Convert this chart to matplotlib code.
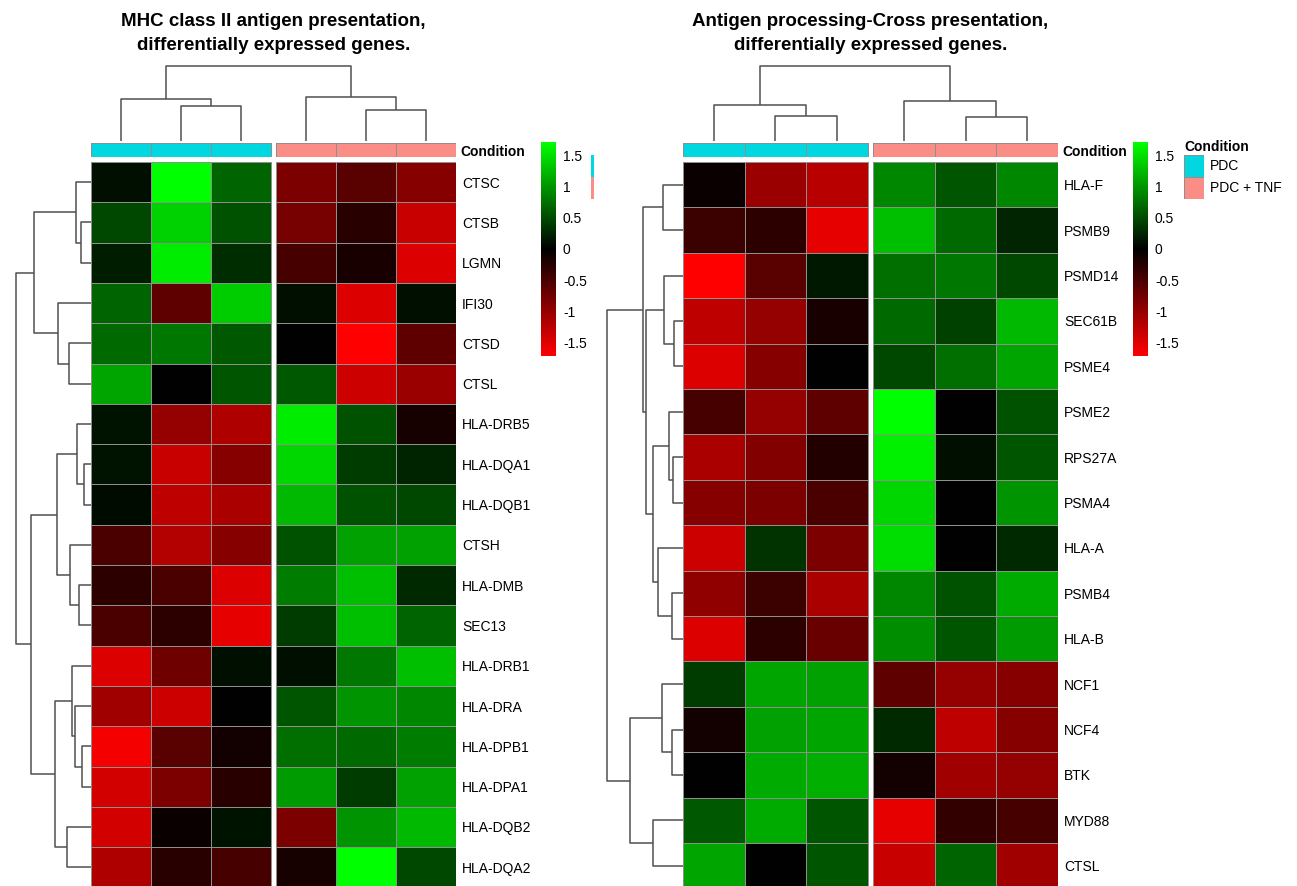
import numpy as np
import matplotlib
matplotlib.use("Agg")
import matplotlib.pyplot as plt
from matplotlib.colors import LinearSegmentedColormap, ListedColormap, Normalize
from matplotlib.cm import ScalarMappable

plt.rcParams['font.family'] = ['Liberation Sans', 'DejaVu Sans']
plt.rcParams['axes.unicode_minus'] = False

W, H = 1297, 886

# ---- data -------------------------------------------------------------
conditions = ["PDC", "PDC", "PDC", "PDC + TNF", "PDC + TNF", "PDC + TNF"]
cond_levels = ["PDC", "PDC + TNF"]
cond_colors = ["#00D7E0", "#FA8E86"]

mhc_title = "MHC class II antigen presentation,\ndifferentially expressed genes."
mhc_genes = ["CTSC", "CTSB", "LGMN", "IFI30", "CTSD", "CTSL", "HLA-DRB5",
             "HLA-DQA1", "HLA-DQB1", "CTSH", "HLA-DMB", "SEC13", "HLA-DRB1",
             "HLA-DRA", "HLA-DPB1", "HLA-DPA1", "HLA-DQB2", "HLA-DQA2"]
mhc_values = np.array([
    [0.10, 1.70, 0.67, -0.84, -0.60, -0.90],
    [0.47, 1.40, 0.54, -0.80, -0.27, -1.34],
    [0.20, 1.58, 0.30, -0.47, -0.17, -1.48],
    [0.67, -0.64, 1.37, 0.10, -1.48, 0.10],
    [0.70, 0.80, 0.60, 0.00, -1.71, -0.64],
    [1.10, 0.00, 0.57, 0.60, -1.37, -1.04],
    [0.13, -1.00, -1.17, 1.58, 0.54, -0.15],
    [0.13, -1.34, -0.90, 1.44, 0.40, 0.23],
    [0.08, -1.27, -1.14, 1.24, 0.54, 0.47],
    [-0.50, -1.20, -0.90, 0.54, 1.07, 1.07],
    [-0.30, -0.50, -1.48, 0.84, 1.27, 0.27],
    [-0.50, -0.30, -1.54, 0.40, 1.27, 0.67],
    [-1.48, -0.74, 0.10, 0.10, 0.80, 1.27],
    [-1.07, -1.37, 0.00, 0.57, 1.00, 0.90],
    [-1.64, -0.60, -0.13, 0.74, 0.70, 0.84],
    [-1.41, -0.84, -0.27, 1.04, 0.40, 1.07],
    [-1.41, -0.07, 0.13, -0.84, 1.00, 1.24],
    [-1.17, -0.27, -0.47, -0.15, 1.71, 0.47],
])

cross_title = "Antigen processing-Cross presentation,\ndifferentially expressed genes."
cross_genes = ["HLA-F", "PSMB9", "PSMD14", "SEC61B", "PSME4", "PSME2", "RPS27A",
               "PSMA4", "HLA-A", "PSMB4", "HLA-B", "NCF1", "NCF4", "BTK",
               "MYD88", "CTSL"]
cross_values = np.array([
    [-0.07, -1.04, -1.24, 0.90, 0.57, 0.90],
    [-0.40, -0.30, -1.54, 1.27, 0.70, 0.25],
    [-1.71, -0.60, 0.15, 0.74, 0.80, 0.47],
    [-1.27, -1.00, -0.17, 0.70, 0.44, 1.24],
    [-1.48, -0.90, 0.00, 0.47, 0.74, 1.10],
    [-0.47, -1.00, -0.64, 1.71, 0.00, 0.54],
    [-1.14, -0.87, -0.23, 1.61, 0.10, 0.57],
    [-0.90, -0.84, -0.50, 1.44, 0.00, 1.00],
    [-1.37, 0.34, -0.84, 1.48, 0.00, 0.27],
    [-0.97, -0.40, -1.14, 0.90, 0.54, 1.14],
    [-1.48, -0.30, -0.70, 0.94, 0.57, 1.04],
    [0.40, 1.10, 1.07, -0.64, -1.00, -0.90],
    [-0.13, 1.07, 1.10, 0.27, -1.27, -0.90],
    [0.00, 1.14, 1.17, -0.13, -1.07, -1.00],
    [0.60, 1.14, 0.57, -1.54, -0.34, -0.47],
    [1.10, 0.00, 0.57, -1.34, 0.67, -1.07],
])

# dendrograms as nested (left, right, merge height); leaves = display order
mhc_row_tree = (
    ((0, (1, 2, 10.0), 15.0), (3, (4, 5, 22.0), 33.0), 56.7),
    (((6, (7, 8, 7.3), 14.0), (9, (10, 11, 12.0), 20.7), 34.3),
     ((12, (13, (14, 15, 9.3), 16.0), 18.7), (16, 17, 24.3), 36.0), 60.3),
    75.3)
mhc_col_tree = ((0, (1, 2, 35.0), 41.7), (3, (4, 5, 31.0), 44.3), 75.0)

cross_row_tree = (
    ((0, 1, 20.3),
     ((2, (3, 4, 9.0), 18.7),
      ((5, (6, 7, 10.3), 13.7), (8, (9, 10, 11.3), 25.3), 29.7), 37.0), 39.7),
    ((11, (12, 13, 11.3), 21.0), (14, 15, 29.7), 53.0),
    75.7)
cross_col_tree = ((0, (1, 2, 25.0), 35.7), (3, (4, 5, 23.7), 40.0), 75.0)

cbar_ticks = [1.5, 1, 0.5, 0, -0.5, -1, -1.5]
VLIM = 1.71

cmap = LinearSegmentedColormap.from_list("rkg", ["#FF0000", "#000000", "#00FF00"], N=256)
norm = Normalize(-VLIM, VLIM)
cond_cmap = ListedColormap(cond_colors)
CELL_EDGE = "#8f8f8f"
CELL_LW = 0.55
TREE_COL = "#505050"


def px_axes(fig, x0, y0, x1, y1):
    return fig.add_axes([x0 / W, 1 - y1 / H, (x1 - x0) / W, (y1 - y0) / H])


def draw_tree(ax, node, pos, rows):
    if isinstance(node, int):
        return pos[node], 0.0
    a, b, h = node
    pa, ha = draw_tree(ax, a, pos, rows)
    pb, hb = draw_tree(ax, b, pos, rows)
    ps, hs = [pa, pa, pb, pb], [ha, h, h, hb]
    if rows:
        ax.plot(hs, ps, color=TREE_COL, lw=1.1, solid_capstyle="butt")
    else:
        ax.plot(ps, hs, color=TREE_COL, lw=1.1, solid_capstyle="butt")
    return (pa + pb) / 2, h


def draw_panel(fig, title, genes, values, row_tree, col_tree,
               x0, x1, top, row_h, gap, dendro_x, cbar_x, label_pad):
    n = len(genes)
    bottom = top + n * row_h
    xl = np.arange(4)
    xr = np.arange(3, 7) + gap
    centers = np.r_[xl[:-1] + 0.5, xr[:-1] + 0.5]
    yedges = np.arange(n + 1)

    # heatmap
    ax = px_axes(fig, x0, top, x1, bottom)
    ax.pcolormesh(xl, yedges, values[:, :3], cmap=cmap, norm=norm,
                  edgecolors=CELL_EDGE, linewidth=CELL_LW)
    ax.pcolormesh(xr, yedges, values[:, 3:], cmap=cmap, norm=norm,
                  edgecolors=CELL_EDGE, linewidth=CELL_LW)
    ax.set_xlim(0, 6 + gap)
    ax.set_ylim(n, 0)
    for s in ax.spines.values():
        s.set_visible(False)
    ax.set_xticks([])
    ax.yaxis.tick_right()
    ax.set_yticks(np.arange(n) + 0.5)
    ax.set_yticklabels(genes, fontsize=10)
    ax.tick_params(axis="y", length=0, pad=label_pad)

    # condition annotation
    codes = np.array([[cond_levels.index(c) for c in conditions]])
    axa = px_axes(fig, x0, 143, x1, 157)
    axa.pcolormesh(xl, [0, 1], codes[:, :3], cmap=cond_cmap, vmin=-0.5, vmax=1.5,
                   edgecolors=CELL_EDGE, linewidth=CELL_LW)
    axa.pcolormesh(xr, [0, 1], codes[:, 3:], cmap=cond_cmap, vmin=-0.5, vmax=1.5,
                   edgecolors=CELL_EDGE, linewidth=CELL_LW)
    axa.set_xlim(0, 6 + gap)
    axa.set_ylim(1, 0)
    for s in axa.spines.values():
        s.set_visible(False)
    axa.set_xticks([])
    axa.yaxis.tick_right()
    axa.set_yticks([0.5])
    axa.set_yticklabels(["Condition"], fontsize=10, fontweight="bold")
    axa.tick_params(axis="y", length=0, pad=label_pad - 1)

    # column dendrogram
    axc = px_axes(fig, x0, 62, x1, 141)
    draw_tree(axc, col_tree, centers, rows=False)
    axc.set_xlim(0, 6 + gap)
    axc.set_ylim(0, 79)
    axc.set_axis_off()

    # row dendrogram
    axr = px_axes(fig, dendro_x, top, x0, bottom)
    draw_tree(axr, row_tree, np.arange(n) + 0.5, rows=True)
    axr.set_xlim(x0 - dendro_x, 0)
    axr.set_ylim(n, 0)
    axr.set_axis_off()

    # colour key
    cax = px_axes(fig, cbar_x, 142, cbar_x + 15, 356)
    cb = fig.colorbar(ScalarMappable(norm=norm, cmap=cmap), cax=cax)
    cb.outline.set_visible(False)
    cb.set_ticks(cbar_ticks)
    cb.set_ticklabels([f"{t:g}" for t in cbar_ticks])
    cax.tick_params(length=0, pad=5, labelsize=10)

    fig.text((x0 + x1) / 2 / W, 1 - 33.5 / H, title, ha="center", va="center",
             fontsize=13.5, fontweight="bold", linespacing=1.6)


fig = plt.figure(figsize=(W / 100, H / 100), dpi=100)
fig.patch.set_facecolor("white")

draw_panel(fig, mhc_title, mhc_genes, mhc_values, mhc_row_tree, mhc_col_tree,
           x0=91, x1=456, top=162, row_h=40.3, gap=0.1, dendro_x=12,
           cbar_x=541, label_pad=4.5)
draw_panel(fig, cross_title, cross_genes, cross_values, cross_row_tree, cross_col_tree,
           x0=683, x1=1058, top=162, row_h=45.4, gap=0.09, dendro_x=605,
           cbar_x=1133, label_pad=4.5)

# condition legend (right panel) and the clipped edge of the left one
leg_codes = np.array([[0], [1]])
axl = px_axes(fig, 1184, 155, 1204, 199)
axl.pcolormesh([0, 1], [0, 1, 2], leg_codes, cmap=cond_cmap, vmin=-0.5, vmax=1.5,
               edgecolors=CELL_EDGE, linewidth=CELL_LW)
axl.set_xlim(0, 1)
axl.set_ylim(2, 0)
axl.set_axis_off()
axl.text(0, -0.05, "Condition", transform=axl.transData, ha="left", va="bottom",
         fontsize=10, fontweight="bold")
for i, lab in enumerate(cond_levels):
    axl.text(1.3, i + 0.5, lab, ha="left", va="center", fontsize=10)

axs = px_axes(fig, 591, 155, 593.5, 199)
axs.pcolormesh([0, 1], [0, 1, 2], leg_codes, cmap=cond_cmap, vmin=-0.5, vmax=1.5)
axs.set_xlim(0, 1)
axs.set_ylim(2, 0)
axs.set_axis_off()

fig.savefig("out.png", dpi=100, facecolor="white")
